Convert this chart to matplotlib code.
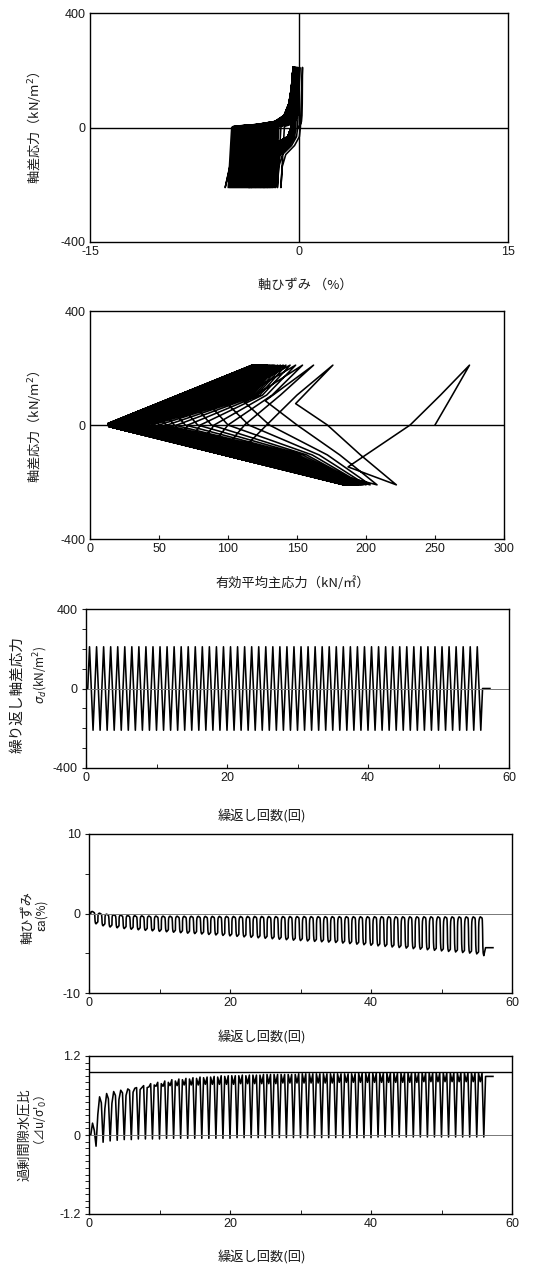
"""
Cyclic undrained triaxial test - five stacked result panels
(stress-strain, stress path, and time histories of load, strain, pore pressure).
"""

import numpy as np
import matplotlib.pyplot as plt

W, H = 547, 1271
JP = ['Noto Sans CJK JP', 'DejaVu Sans']
NUM = ['Liberation Sans', 'DejaVu Sans']
plt.rcParams['font.family'] = NUM
plt.rcParams['axes.unicode_minus'] = False

# ---- per-cycle values (cycle 1 .. 56) ----
Q_AMP = 210.0          # deviator stress amplitude (kN/m2)
Q_MID = 105.0          # stress level of the mid points on the unloading branches

# axial strain at the extension peak (troughs of panel 4) and at the compression peak
eps_ext = [-1.30, -1.55, -1.70, -1.80, -1.90, -1.98, -2.05, -2.12, -2.18, -2.25,
           -2.30, -2.36, -2.42, -2.48, -2.53, -2.58, -2.64, -2.70, -2.76, -2.82,
           -2.88, -2.94, -3.00, -3.06, -3.12, -3.18, -3.24, -3.30, -3.36, -3.41,
           -3.46, -3.51, -3.56, -3.60, -3.65, -3.72, -3.79, -3.86, -3.93, -4.00,
           -4.07, -4.14, -4.21, -4.28, -4.35, -4.42, -4.49, -4.56, -4.63, -4.70,
           -4.77, -4.84, -4.91, -4.98, -5.08, -5.30]
eps_comp = [0.25, 0.05, -0.08, -0.15, -0.20, -0.24, -0.27, -0.29, -0.31, -0.32,
            -0.33, -0.34, -0.34, -0.35, -0.35, -0.35, -0.36, -0.36, -0.36, -0.36,
            -0.37, -0.37, -0.37, -0.37, -0.37, -0.38, -0.38, -0.38, -0.38, -0.38,
            -0.38, -0.39, -0.39, -0.39, -0.39, -0.39, -0.39, -0.40, -0.40, -0.40,
            -0.40, -0.40, -0.40, -0.41, -0.41, -0.41, -0.41, -0.41, -0.41, -0.41,
            -0.42, -0.42, -0.42, -0.42, -0.42, -0.42]
eps_end = -4.3

# effective mean stress p' (kN/m2) at the key points of each cycle
p_start = [250, 172, 150, 130, 115, 100, 88, 78, 69, 61,
           55, 50, 45, 41, 38, 35, 33, 31, 29, 27.5,
           26, 25, 24, 23, 22, 21, 20.5, 20, 19.5, 19,
           18.5, 18, 17.5, 17.5, 17, 17, 16.5, 16.5, 16, 16,
           16, 15.5, 15.5, 15.5, 15, 15, 15, 15, 14.5, 14.5,
           14.5, 14.5, 14, 14, 14, 14]
p_turn_c = [262, 149, 127, 112, 100, 88, 78, 69, 61, 54,
            49, 45, 41, 37, 34, 32, 30, 28, 26.5, 25,
            24, 23, 22, 21, 20, 19.5, 19, 18.5, 18, 17.5,
            17, 16.5, 16, 16, 15.5, 15.5, 15, 15, 15, 14.5,
            14.5, 14.5, 14, 14, 14, 14, 13.5, 13.5, 13.5, 13.5,
            13.5, 13.5, 13, 13, 13, 13]
q_turn_c = [100, 75, 85, 80, 72, 64, 56, 50, 44, 39,
            35, 31, 28, 25, 22, 20, 18, 16, 15, 14,
            13, 12, 11, 10, 10, 9, 9, 8, 8, 8,
            7, 7, 7, 7, 6, 6, 6, 6, 6, 6,
            5, 5, 5, 5, 5, 5, 5, 5, 5, 5,
            5, 5, 5, 5, 5, 5]
p_comp = [275, 176, 162, 154, 149, 145, 142, 140, 138, 136,
          134, 133, 132, 131, 130, 129, 128.5, 128, 127.5, 127,
          126.5, 126, 125.5, 125, 124.5, 124, 124, 123.5, 123, 123,
          122.5, 122, 122, 121.5, 121.5, 121, 121, 120.5, 120.5, 120,
          120, 120, 119.5, 119.5, 119, 119, 119, 118.5, 118.5, 118.5,
          118, 118, 118, 118, 117.5, 117.5]
p_mid_c = [254, 150, 138, 132, 128, 125, 123, 121, 119.5, 118,
           117, 116.5, 116, 115, 114.5, 114, 113, 112.5, 112, 111,
           110.5, 110, 109, 108.5, 108, 107, 106.5, 106, 105, 104.5,
           104, 103, 102.5, 102, 101, 100.5, 100, 99, 98.5, 98,
           97, 96.5, 96, 95, 94.5, 94, 93, 92.5, 92, 91,
           90.5, 90, 89, 88.5, 88, 87]
p_unload = [232, 128, 112, 100, 90, 80, 71, 63, 56, 50,
            45, 41, 38, 35, 32.5, 30.5, 29, 27.5, 26, 25,
            24, 23, 22, 21.5, 21, 20.5, 20, 19.5, 19, 18.5,
            18, 18, 17.5, 17.5, 17, 17, 16.5, 16.5, 16, 16,
            16, 16, 15.5, 15.5, 15.5, 15.5, 15, 15, 15, 15,
            15, 15, 14.5, 14.5, 14.5, 14.5]
p_turn_e = [187, 110, 98, 88, 80, 72, 64, 57, 51, 46,
            42, 38, 35, 32, 30, 28, 26.5, 25, 24, 23,
            22, 21, 20, 19.5, 19, 18.5, 18, 17.5, 17, 17,
            16.5, 16.5, 16, 16, 15.5, 15.5, 15, 15, 15, 15,
            14.5, 14.5, 14.5, 14.5, 14, 14, 14, 14, 14, 14,
            14, 14, 13.5, 13.5, 13.5, 13.5]
q_turn_e = [147, 88, 80, 72, 65, 58, 52, 46, 41, 37,
            33, 30, 27, 24, 22, 20, 18, 16, 15, 14,
            13, 12, 11, 10, 10, 9, 9, 8, 8, 8,
            7, 7, 7, 7, 6, 6, 6, 6, 6, 6,
            5, 5, 5, 5, 5, 5, 5, 5, 5, 5,
            5, 5, 5, 5, 5, 5]
p_ext = [222, 208, 203, 200, 198, 197, 196, 195, 194.5, 194,
         193.5, 193, 192.5, 192, 191.5, 191, 190.5, 190, 190, 189.5,
         189.5, 189, 189, 188.5, 188.5, 188, 188, 188, 187.5, 187.5,
         187.5, 187, 187, 187, 186.5, 186.5, 186.5, 186, 186, 186,
         186, 185.5, 185.5, 185.5, 185.5, 185, 185, 185, 185, 185,
         184.5, 184.5, 184.5, 184.5, 184, 184]
p_mid_e = [196, 181, 172, 166, 161, 157, 154, 151, 149, 147,
           146.5, 146, 145, 144.5, 144, 143, 142.5, 142, 141, 140.5,
           140, 139, 138.5, 138, 137, 136.5, 136, 135, 134.5, 134,
           133, 132.5, 132, 131, 130.5, 130, 129, 128.5, 128, 127,
           126.5, 126, 125, 124.5, 124, 123, 122.5, 122, 121, 120.5,
           120, 119, 118.5, 118, 117, 116.5]
p_end = 27

# excess pore pressure ratio at the quarter points of each cycle
u_rise = [0.00, 0.31, 0.40, 0.48, 0.54, 0.60, 0.65, 0.69, 0.72, 0.76,
          0.78, 0.80, 0.82, 0.84, 0.85, 0.86, 0.87, 0.88, 0.88, 0.89,
          0.90, 0.90, 0.90, 0.91, 0.91, 0.92, 0.92, 0.92, 0.92, 0.92,
          0.93, 0.93, 0.93, 0.93, 0.93, 0.93, 0.93, 0.93, 0.94, 0.94,
          0.94, 0.94, 0.94, 0.94, 0.94, 0.94, 0.94, 0.94, 0.94, 0.94,
          0.94, 0.94, 0.94, 0.94, 0.94, 0.94]
u_comp = [0.18, 0.58, 0.63, 0.66, 0.68, 0.70, 0.71, 0.72, 0.73, 0.74,
          0.74, 0.75, 0.75, 0.76, 0.76, 0.76, 0.77, 0.77, 0.77, 0.77,
          0.77, 0.78, 0.78, 0.78, 0.78, 0.78, 0.78, 0.79, 0.79, 0.79,
          0.79, 0.79, 0.79, 0.79, 0.79, 0.80, 0.80, 0.80, 0.80, 0.80,
          0.80, 0.80, 0.80, 0.80, 0.80, 0.80, 0.80, 0.81, 0.81, 0.81,
          0.81, 0.81, 0.81, 0.81, 0.81, 0.81]
u_fall = [0.07, 0.49, 0.55, 0.60, 0.64, 0.68, 0.72, 0.75, 0.78, 0.80,
          0.82, 0.84, 0.85, 0.86, 0.87, 0.88, 0.88, 0.89, 0.90, 0.90,
          0.90, 0.91, 0.91, 0.91, 0.92, 0.92, 0.92, 0.92, 0.92, 0.93,
          0.93, 0.93, 0.93, 0.93, 0.93, 0.93, 0.93, 0.93, 0.94, 0.94,
          0.94, 0.94, 0.94, 0.94, 0.94, 0.94, 0.94, 0.94, 0.94, 0.94,
          0.94, 0.94, 0.94, 0.94, 0.94, 0.94]
u_ext = [-0.17, -0.11, -0.09, -0.08, -0.07, -0.07, -0.06, -0.06, -0.06, -0.06,
         -0.05, -0.05, -0.05, -0.05, -0.05, -0.05, -0.05, -0.05, -0.05, -0.05,
         -0.04, -0.04, -0.04, -0.04, -0.04, -0.04, -0.04, -0.04, -0.04, -0.04,
         -0.04, -0.04, -0.04, -0.04, -0.04, -0.04, -0.04, -0.04, -0.04, -0.04,
         -0.03, -0.03, -0.03, -0.03, -0.03, -0.03, -0.03, -0.03, -0.03, -0.03,
         -0.03, -0.03, -0.03, -0.03, -0.03, -0.03]
u_end = 0.89
u_line = 0.95
t_end = 57.3

comp_shape = [(0, 0), (0.03, 0.02), (0.4, 0.05), (0.7, 0.1), (0.85, 0.2),
              (0.93, 0.4), (0.97, 0.65), (1, 1)]
ext_shape = [(0, 0), (0.05, 0.15), (0.3, 0.3), (0.75, 0.45), (0.93, 0.65), (1, 1)]
REC_COMP = 0.15    # strain recovered on unloading from compression
REC_EXT = 0.25     # strain recovered on unloading from extension

n_cyc = len(eps_ext)

# ---- assemble the load / strain history ----
t_s, q_s, e_s = [0.0, 0.25], [0.0, 0.0], [0.0, 0.0]
e0 = 0.0
for k in range(n_cyc):
    t0 = k + 0.25
    if k > 0:
        t_s.append(t0); q_s.append(0.0); e_s.append(e0)
    for s, f in comp_shape[1:]:
        t_s.append(t0 + 0.25 * f); q_s.append(Q_AMP * f); e_s.append(e0 + s * (eps_comp[k] - e0))
    e1 = eps_comp[k] - REC_COMP
    t_s.append(t0 + 0.5); q_s.append(0.0); e_s.append(e1)
    for s, f in ext_shape[1:]:
        t_s.append(t0 + 0.5 + 0.25 * f); q_s.append(-Q_AMP * f); e_s.append(e1 + s * (eps_ext[k] - e1))
    e0 = eps_ext[k] + REC_EXT
t_s += [n_cyc + 0.25, t_end]
q_s += [0.0, 0.0]
e_s += [eps_end, eps_end]

# stress path
p_path, q_path = [], []
for k in range(n_cyc):
    p_path += [p_start[k], p_turn_c[k], p_comp[k], p_mid_c[k], p_unload[k],
               p_turn_e[k], p_ext[k], p_mid_e[k]]
    q_path += [0.0, q_turn_c[k], Q_AMP, Q_MID, 0.0, -q_turn_e[k], -Q_AMP, -Q_MID]
p_path.append(p_end)
q_path.append(0.0)

# pore pressure history
t_u, u_s = [0.0], [0.0]
for k in range(n_cyc):
    t_u += [k + 0.25, k + 0.5, k + 0.75, k + 1.0]
    u_s += [u_rise[k], u_comp[k], u_fall[k], u_ext[k]]
t_u += [n_cyc + 0.25, t_end]
u_s += [u_end, u_end]

# ---- figure ----
fig = plt.figure(figsize=(W / 100, H / 100), dpi=100)


def px_axes(l, t, r, b):
    return fig.add_axes([l / W, 1 - b / H, (r - l) / W, (b - t) / H])


def px_text(x, y, s, size, rot=0, fam=JP, **kw):
    fig.text(x / W, 1 - y / H, s, fontsize=size, rotation=rot, family=fam,
             ha='center', va='center', color='#1a1a1a', **kw)


def style(ax):
    for sp in ax.spines.values():
        sp.set_linewidth(1.0)
    ax.tick_params(labelsize=9, colors='#1a1a1a', pad=3)


LW = 1.15

# panel 1: stress-strain
ax1 = px_axes(90, 13, 508, 242)
ax1.plot(e_s, q_s, color='black', lw=LW)
ax1.axhline(0, color='black', lw=1.0)
ax1.axvline(0, color='black', lw=1.0)
ax1.set_xlim(-15, 15)
ax1.set_ylim(-400, 400)
ax1.set_xticks([-15, 0, 15])
ax1.set_yticks([-400, 0, 400])
style(ax1)
ax1.tick_params(length=0)
px_text(34, 128, '軸差応力（kN/m$^2$）', 9.5, rot=90)
px_text(305, 285, '軸ひずみ （%）', 9.5)

# panel 2: effective stress path
ax2 = px_axes(90, 311, 504, 539)
ax2.plot(p_path, q_path, color='black', lw=LW)
ax2.axhline(0, color='black', lw=1.0)
ax2.set_xlim(0, 300)
ax2.set_ylim(-400, 400)
ax2.set_xticks(np.arange(0, 301, 50))
ax2.set_yticks([-400, 0, 400])
style(ax2)
ax2.tick_params(axis='x', direction='in', length=3)
ax2.tick_params(axis='y', length=0)
px_text(34, 427, '軸差応力（kN/m$^2$）', 9.5, rot=90)
px_text(293, 583, '有効平均主応力（kN/㎡）', 9.5)


def time_axes(ax, ymaj, yminor):
    ax.set_xlim(0, 60)
    ax.set_xticks([0, 20, 40, 60])
    ax.set_xticks([10, 30, 50], minor=True)
    ax.set_yticks(ymaj)
    ax.set_yticks(yminor, minor=True)
    style(ax)
    ax.tick_params(axis='x', which='both', direction='in', length=3)
    ax.tick_params(axis='y', which='both', direction='out', length=3)
    ax.axhline(0, color='#777777', lw=0.7)


# panel 3: cyclic deviator stress
ax3 = px_axes(86, 609, 509, 768)
ax3.plot(t_s, q_s, color='black', lw=LW)
ax3.set_ylim(-400, 400)
time_axes(ax3, [-400, 0, 400], np.arange(-300, 301, 100))
px_text(17, 695, '繰り返し軸差応力', 10.5, rot=90)
px_text(41, 675, r'$\sigma_d$(kN/m$^2$)', 8.5, rot=90)
px_text(262, 816, '繰返し回数(回)', 9.5)

# panel 4: axial strain history
ax4 = px_axes(89, 834, 512, 993)
ax4.plot(t_s, e_s, color='black', lw=LW)
ax4.set_ylim(-10, 10)
time_axes(ax4, [-10, 0, 10], [-5, 5])
px_text(28, 917, '軸ひずみ', 9.5, rot=90)
px_text(41, 915, 'εa(%)', 8.5, rot=90)
px_text(262, 1037, '繰返し回数(回)', 9.5)

# panel 5: excess pore pressure ratio
ax5 = px_axes(89, 1056, 512, 1214)
ax5.plot(t_u, u_s, color='black', lw=LW)
ax5.axhline(u_line, color='black', lw=1.0)
ax5.set_ylim(-1.2, 1.2)
time_axes(ax5, [-1.2, 0, 1.2], np.arange(-1.1, 1.15, 0.1))
ax5.set_yticklabels(['-1.2', '0', '1.2'])
px_text(25, 1135, '過剰間隙水圧比', 9.5, rot=90)
px_text(40, 1123, "（⊿u/σ'$_0$）", 8.5, rot=90)
px_text(262, 1257, '繰返し回数(回)', 9.5)

fig.savefig('out.png', dpi=100)
